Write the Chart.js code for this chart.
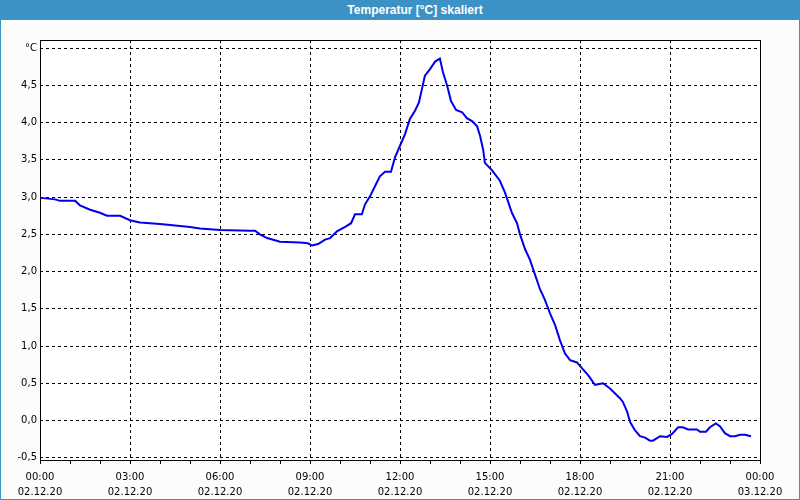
<!DOCTYPE html>
<html>
<head>
<meta charset="utf-8">
<script src="https://cdn.jsdelivr.net/npm/chart.js@4.4.0/dist/chart.umd.min.js"></script>
<style>
  body { margin: 0; background: #ffffff; }
  #window { position: relative; width: 800px; height: 500px; background: #3d92c5; }
  #titleBar {
    position: absolute; left: 0; top: 0; width: 800px; height: 20px;
    color: #ffffff; font: bold 12px "Liberation Sans", Arial, sans-serif;
    line-height: 20px; text-align: center; padding-left: 30px; box-sizing: border-box;
  }
  #content { position: absolute; left: 1px; top: 20px; width: 798px; height: 479px; background: #fbfcfb; }
  canvas { display: block; }
</style>
</head>
<body>
<div id="window">
  <div id="titleBar">Temperatur [°C] skaliert</div>
  <div id="content"><canvas id="chartCanvas" width="798" height="479"></canvas></div>
</div>
<script>
// Messwerte (Stunden seit 02.12.20 00:00, Temperatur in °C)
const hours = [
  0.03, 0.5, 0.67, 1.17, 1.33, 1.67, 2.0, 2.23, 2.67, 3.0,
  3.33, 4.0, 4.5, 5.0, 5.33, 5.67, 6.0, 7.0, 7.17, 7.33,
  7.57, 8.0, 8.67, 8.93, 9.07, 9.27, 9.5, 9.67, 9.9, 10.17,
  10.37, 10.5, 10.73, 10.83, 11.0, 11.17, 11.33, 11.5, 11.7, 11.83,
  12.0, 12.17, 12.33, 12.5, 12.63, 12.73, 12.83, 13.0, 13.17, 13.33,
  13.43, 13.57, 13.7, 13.87, 14.07, 14.23, 14.4, 14.57, 14.67, 14.77,
  14.83, 15.07, 15.33, 15.5, 15.73, 15.9, 16.0, 16.17, 16.33, 16.5,
  16.67, 16.83, 17.0, 17.17, 17.33, 17.5, 17.67, 17.9, 18.07, 18.27,
  18.5, 18.77, 19.0, 19.33, 19.43, 19.57, 19.67, 19.83, 20.0, 20.17,
  20.33, 20.43, 20.67, 20.9, 21.07, 21.27, 21.43, 21.6, 21.9, 22.0,
  22.2, 22.33, 22.53, 22.67, 22.83, 23.0, 23.17, 23.33, 23.5, 23.7
];
const temps = [
  2.99, 2.97, 2.95, 2.95, 2.89, 2.83, 2.79, 2.75, 2.75, 2.69,
  2.66, 2.64, 2.62, 2.60, 2.58, 2.57, 2.56, 2.55, 2.55, 2.50,
  2.45, 2.40, 2.39, 2.38, 2.35, 2.37, 2.43, 2.45, 2.54, 2.60,
  2.65, 2.77, 2.77, 2.90, 3.01, 3.15, 3.28, 3.34, 3.34, 3.53,
  3.69, 3.85, 4.05, 4.16, 4.27, 4.45, 4.63, 4.72, 4.82, 4.86,
  4.68, 4.50, 4.29, 4.17, 4.14, 4.06, 4.02, 3.95, 3.82, 3.64,
  3.46, 3.36, 3.22, 3.06, 2.79, 2.65, 2.50, 2.30, 2.16, 1.96,
  1.76, 1.62, 1.44, 1.28, 1.08, 0.90, 0.81, 0.78, 0.70, 0.61,
  0.48, 0.50, 0.43, 0.30, 0.25, 0.12, -0.02, -0.13, -0.21, -0.23,
  -0.27, -0.27, -0.21, -0.22, -0.18, -0.09, -0.09, -0.12, -0.12, -0.15,
  -0.15, -0.09, -0.04, -0.08, -0.17, -0.21, -0.21, -0.19, -0.19, -0.21
];

// Achsenbeschriftungen
const yTicks = [-0.5, 0, 0.5, 1.0, 1.5, 2.0, 2.5, 3.0, 3.5, 4.0, 4.5, 5.0];
const hourLabels = ['00:00', '03:00', '06:00', '09:00', '12:00', '15:00', '18:00', '21:00', '00:00'];
const dateLabels = ['02.12.20', '02.12.20', '02.12.20', '02.12.20', '02.12.20', '02.12.20', '02.12.20', '02.12.20', '03.12.20'];

const tickFont = { family: '"DejaVu Sans", Tahoma, sans-serif', size: 10, lineHeight: 1.5 };

// Weißer Plotbereich und schwarzer Rahmen
const plotFrame = {
  id: 'plotFrame',
  beforeDraw(chart) {
    const a = chart.chartArea;
    const ctx = chart.ctx;
    ctx.save();
    ctx.fillStyle = '#ffffff';
    ctx.fillRect(a.left, a.top, a.right - a.left, a.bottom - a.top);
    ctx.restore();
  },
  afterDraw(chart) {
    const a = chart.chartArea;
    const ctx = chart.ctx;
    ctx.save();
    ctx.strokeStyle = '#000000';
    ctx.lineWidth = 1;
    ctx.strokeRect(Math.round(a.left) + 0.5, Math.round(a.top) + 0.5,
      Math.round(a.right - a.left), Math.round(a.bottom - a.top));
    ctx.restore();
  }
};

function createChart() {
  const ctx = document.getElementById('chartCanvas').getContext('2d');
  new Chart(ctx, {
    type: 'line',
    data: {
      datasets: [{
        data: hours.map((h, i) => ({ x: h, y: temps[i] })),
        borderColor: '#0000ee',
        borderWidth: 2,
        pointRadius: 0,
        tension: 0,
        fill: false
      }]
    },
    options: {
      responsive: false,
      animation: false,
      devicePixelRatio: 1,
      layout: { padding: { top: 20, right: 39, left: 0, bottom: 0 } },
      plugins: { legend: { display: false }, tooltip: { enabled: false } },
      scales: {
        x: {
          type: 'linear',
          min: 0,
          max: 24,
          afterBuildTicks: scale => {
            const t = [];
            for (let h = 0; h <= 24; h++) t.push({ value: h });
            scale.ticks = t;
          },
          afterFit: scale => { scale.height = 39; },
          grid: {
            color: c => (c.tick && c.tick.value % 3 === 0 ? '#000000' : 'rgba(0,0,0,0)'),
            tickColor: '#000000',
            tickLength: 4,
            lineWidth: 1
          },
          border: { display: false, dash: [3, 3] },
          ticks: {
            autoSkip: false,
            maxRotation: 0,
            padding: 6,
            color: '#000000',
            font: tickFont,
            callback: v => (v % 3 === 0 ? [hourLabels[v / 3], dateLabels[v / 3]] : '')
          }
        },
        y: {
          min: -0.53,
          max: 5.11,
          afterBuildTicks: scale => { scale.ticks = yTicks.map(v => ({ value: v })); },
          afterFit: scale => { scale.width = 39; },
          grid: { color: '#000000', drawTicks: false, lineWidth: 1 },
          border: { display: false, dash: [3, 3] },
          ticks: {
            padding: 3,
            color: '#000000',
            font: tickFont,
            callback: v => (v === 5 ? '°C' : v.toFixed(1).replace('.', ','))
          }
        }
      }
    },
    plugins: [plotFrame]
  });
}

createChart();
</script>
</body>
</html>
